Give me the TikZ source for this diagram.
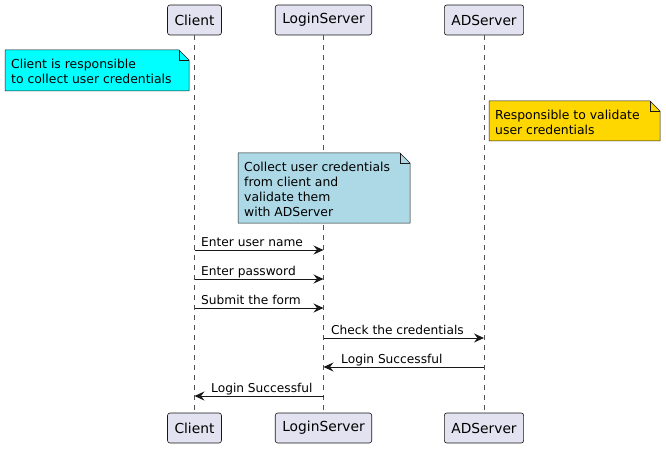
\documentclass[tikz,border=0pt]{standalone}
\usepackage{fontspec}
\setmainfont{DejaVu Sans}
\usetikzlibrary{arrows.meta}
\definecolor{partfill}{HTML}{E2E2F0}
\definecolor{edge}{HTML}{181818}
\definecolor{notecyan}{HTML}{00FFFF}
\definecolor{notegold}{HTML}{FFD700}
\definecolor{noteblue}{HTML}{ADD8E6}
\begin{document}
\begin{tikzpicture}[x=1pt,y=-1pt,
  participant/.style={draw=edge,fill=partfill,rounded corners=2.5pt,line width=0.6pt,
    minimum height=30pt,inner xsep=7pt,font=\fontsize{13.8}{15}\selectfont},
  lifeline/.style={edge!75,dash pattern=on 5pt off 5pt,line width=0.5pt},
  msg/.style={edge,line width=0.8pt,-{Stealth[length=10pt,width=9pt,inset=3.5pt]}},
  msglabel/.style={font=\fontsize{12.2}{14}\selectfont,anchor=base west,inner sep=0pt},
  notetext/.style={font=\fontsize{12.4}{15}\selectfont,align=left,anchor=north west,inner sep=0pt}
]
\useasboundingbox (0,0) rectangle (666,449);

% participants, top and bottom
\node[participant] (ct) at (194.5,20) {Client};
\node[participant] (lt) at (323.5,20) {LoginServer};
\node[participant] (at) at (484,20) {ADServer};
\node[participant] (cb) at (194.5,428) {Client};
\node[participant] (lb) at (323.5,428) {LoginServer};
\node[participant] (ab) at (484,428) {ADServer};

% lifelines
\draw[lifeline] (ct.south) -- (cb.north);
\draw[lifeline] (lt.south) -- (lb.north);
\draw[lifeline] (at.south) -- (ab.north);

% notes with folded corner
\newcommand{\foldnote}[6]{% x1,y1,x2,y2,colour,name
  \filldraw[draw=edge,fill=#5,line width=0.5pt]
    (#1,#2) -- (#3-10,#2) -- (#3,#2+10) -- (#3,#4) -- (#1,#4) -- cycle;
  \draw[edge,line width=0.5pt] (#3-10,#2) -- (#3-10,#2+10) -- (#3,#2+10);
  \coordinate (#6) at (#1+6,#2+8.5);
}
\foldnote{5}{50}{189}{91}{notecyan}{n1}
\node[notetext] (t1) at (n1) {Client is responsible\\to collect user credentials};
\foldnote{489}{101}{660}{141}{notegold}{n2}
\node[notetext] (t2) at (n2) {Responsible to validate\\user credentials};
\foldnote{238}{153}{410}{223}{noteblue}{n3}
\node[notetext] (t3) at (n3) {Collect user credentials\\from client and\\validate them\\with ADServer};

% message anchors on the lifelines
\foreach \n/\y in {1/250,2/279,3/308,4/338,5/367,6/396}{
  \coordinate (c\n) at (194.5,\y);
  \coordinate (l\n) at (323.5,\y);
  \coordinate (a\n) at (484,\y);
}

\draw[msg] (c1) -- (l1);
\node[msglabel] (m1) at (201,246) {Enter user name};
\draw[msg] (c2) -- (l2);
\node[msglabel] (m2) at (201,275) {Enter password};
\draw[msg] (c3) -- (l3);
\node[msglabel] (m3) at (201,304) {Submit the form};
\draw[msg] (l4) -- (a4);
\node[msglabel] (m4) at (331,334) {Check the credentials};
\draw[msg] (a5) -- (l5);
\node[msglabel] (m5) at (341,363) {Login Successful};
\draw[msg] (l6) -- (c6);
\node[msglabel] (m6) at (211,392) {Login Successful};
\end{tikzpicture}
\end{document}
